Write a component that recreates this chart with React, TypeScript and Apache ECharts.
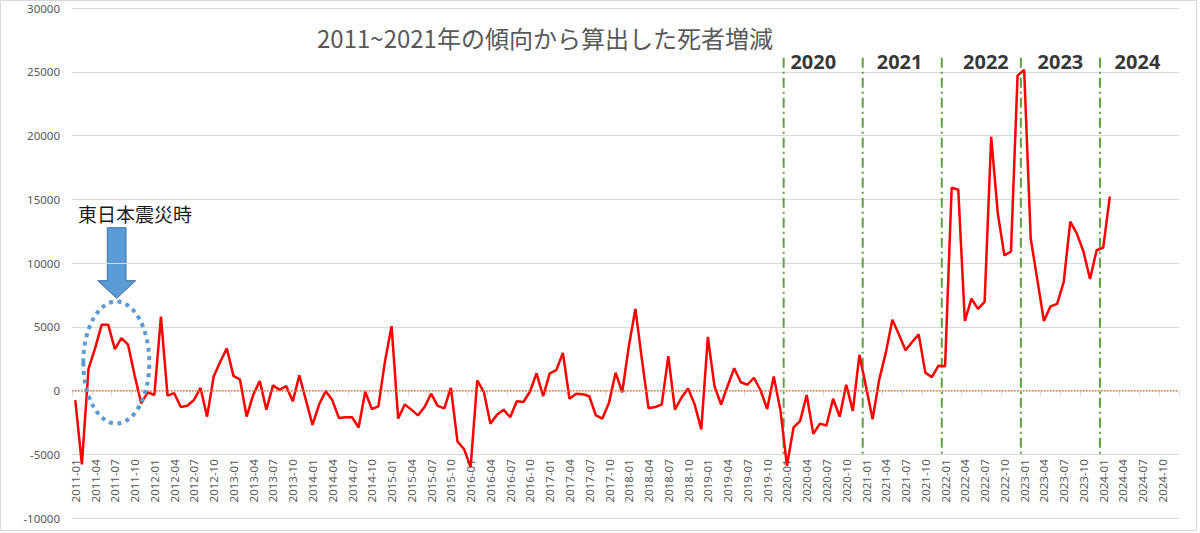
import React, { useEffect, useRef } from "react";
import * as echarts from "echarts";

// ---- data ----
const years = [2011, 2012, 2013, 2014, 2015, 2016, 2017, 2018, 2019, 2020, 2021, 2022, 2023, 2024];
const monthNames = ["01", "02", "03", "04", "05", "06", "07", "08", "09", "10", "11", "12"];
const categories: string[] = [];
years.forEach((y) => monthNames.forEach((m) => categories.push(`${y}-${m}`)));

const v2011 = [-750, -5800, 1700, 3300, 5150, 5150, 3250, 4100, 3600, 1200, -1000, -150];
const v2012 = [-350, 5800, -400, -200, -1300, -1200, -750, 200, -2050, 1100, 2250, 3300];
const v2013 = [1150, 850, -2050, -350, 750, -1500, 400, 50, 350, -850, 1200, -750];
const v2014 = [-2700, -1100, -50, -750, -2150, -2100, -2100, -2900, -100, -1450, -1250, 2300];
const v2015 = [5050, -2200, -1100, -1500, -1950, -1300, -250, -1200, -1400, 200, -4000, -4600];
const v2016 = [-6000, 800, -100, -2600, -1900, -1500, -2100, -850, -900, -100, 1350, -450];
const v2017 = [1350, 1600, 2950, -650, -250, -300, -450, -1950, -2200, -950, 1400, -150];
const v2018 = [3450, 6400, 2400, -1400, -1300, -1100, 2700, -1500, -550, 150, -1100, -3050];
const v2019 = [4200, 350, -1100, 350, 1750, 650, 450, 1000, 0, -1450, 1100, -1500];
const v2020 = [-5900, -2900, -2400, -350, -3400, -2600, -2750, -650, -2050, 450, -1600, 2800];
const v2021 = [300, -2250, 850, 2950, 5550, 4400, 3150, 3800, 4400, 1400, 1050, 1950];
const v2022 = [1900, 15900, 15750, 5450, 7200, 6400, 6950, 19900, 13900, 10600, 10900, 24700];
const v2023 = [25150, 11900, 8700, 5450, 6600, 6800, 8500, 13250, 12300, 10900, 8750, 11000];
const v2024 = [11200, 15200];

const deathDiff = [
  ...v2011, ...v2012, ...v2013, ...v2014, ...v2015, ...v2016, ...v2017,
  ...v2018, ...v2019, ...v2020, ...v2021, ...v2022, ...v2023, ...v2024,
];

const yearMarkers = ["2020", "2021", "2022", "2023", "2024"];
const yearLabelOffsets = [4.5, 5.6, 6.7, 6.0, 5.7]; // months right of the divider
const yTicks = { min: -10000, max: 30000, interval: 5000 };

const titleText = "2011~2021年の傾向から算出した死者増減";
const noteText = "東日本震災時";

export default function App() {
  const ref = useRef<HTMLDivElement>(null);

  useEffect(() => {
    if (!ref.current) return;
    const chart = echarts.init(ref.current, undefined, { renderer: "svg" });
    const font = '"Noto Sans", "Open Sans", sans-serif';
    const gray = "#595959";

    const gridTop = 8;
    const gridBottom = 15;
    const gridH = 533 - gridTop - gridBottom;
    const stepPx = gridH / ((yTicks.max - yTicks.min) / yTicks.interval);

    const lineTop = 26100;
    const lineBottom = -5100;

    const dividerSeries = yearMarkers.map((yr) => {
      const k = categories.indexOf(`${yr}-01`);
      return {
        type: "line",
        xAxisIndex: 1,
        yAxisIndex: 0,
        data: [
          [k, lineTop],
          [k, lineBottom],
        ],
        symbol: "none",
        silent: true,
        z: 1,
        lineStyle: { color: "#5FA043", width: 2, type: [10, 4, 2, 4] },
      };
    });

    const yearLabelSeries = {
      type: "scatter",
      xAxisIndex: 1,
      yAxisIndex: 0,
      symbolSize: 0,
      silent: true,
      data: yearMarkers.map((yr, i) => [categories.indexOf(`${yr}-01`) + yearLabelOffsets[i], 25800, yr]),
      label: {
        show: true,
        position: "inside",
        formatter: (p: any) => p.value[2],
        fontFamily: '"Open Sans", sans-serif',
        fontWeight: "bold",
        fontSize: 20,
        color: "#000",
      },
    };

    chart.setOption({
      animation: false,
      backgroundColor: "#fff",
      grid: { left: 72, right: 21, top: gridTop, bottom: gridBottom, containLabel: false },
      xAxis: [
        {
          type: "category",
          data: categories,
          boundaryGap: true,
          position: "bottom",
          offset: -stepPx,
          axisLine: { show: true, lineStyle: { color: "#D9D9D9", width: 1 } },
          axisTick: { show: true, interval: 2, length: 5, lineStyle: { color: "#D9D9D9" } },
          axisLabel: {
            interval: 2,
            rotate: 90,
            margin: 5,
            color: gray,
            fontSize: 11.5,
            fontFamily: font,
          },
          splitLine: { show: false },
        },
        {
          type: "value",
          min: 0,
          max: categories.length,
          show: false,
        },
      ],
      yAxis: {
        type: "value",
        min: yTicks.min,
        max: yTicks.max,
        interval: yTicks.interval,
        axisLine: { show: false },
        axisTick: { show: false },
        axisLabel: {
          color: gray,
          fontSize: 11.5,
          fontFamily: font,
          margin: 12,
          formatter: (v: number) => String(v),
        },
        splitLine: { lineStyle: { color: "#D9D9D9", width: 1 } },
      },
      series: [
        ...dividerSeries,
        {
          type: "line",
          xAxisIndex: 0,
          data: deathDiff,
          symbol: "none",
          z: 3,
          lineStyle: { color: "#FF0000", width: 2.5 },
          markLine: {
            silent: true,
            symbol: ["none", "none"],
            label: { show: false },
            lineStyle: { color: "#ED7D31", type: "dotted", width: 1.5 },
            data: [{ yAxis: 0 }],
          },
        },
        yearLabelSeries,
      ],
      graphic: [
        {
          type: "rect",
          silent: true,
          shape: { x: 0.5, y: 0.5, width: 1196, height: 530 },
          style: { fill: "none", stroke: "#D9D9D9", lineWidth: 1 },
          z: -10,
        },
        {
          type: "text",
          silent: true,
          style: {
            text: titleText,
            x: 545,
            y: 37,
            align: "center",
            verticalAlign: "middle",
            fontSize: 24,
            fontFamily: '"Noto Sans CJK JP", sans-serif',
            fill: gray,
          },
        },
        {
          type: "text",
          silent: true,
          style: {
            text: noteText,
            x: 78,
            y: 213,
            align: "left",
            verticalAlign: "middle",
            fontSize: 19,
            fontFamily: '"Noto Sans CJK JP", sans-serif',
            fill: "#1a1a1a",
          },
        },
        {
          type: "polygon",
          silent: true,
          shape: {
            points: [
              [107.3, 227.7],
              [126, 227.7],
              [126, 280.7],
              [135.7, 280.7],
              [116.7, 298.3],
              [97.7, 280.7],
              [107.3, 280.7],
            ],
          },
          style: { fill: "#5B9BD5", stroke: "#41719C", lineWidth: 1 },
        },
        {
          type: "ellipse",
          silent: true,
          shape: { cx: 116.3, cy: 362.5, rx: 33, ry: 61 },
          style: { fill: "none", stroke: "#5B9BD5", lineWidth: 4, lineDash: [4, 4.5] },
          z: 10,
        },
      ],
    });

    return () => chart.dispose();
  }, []);

  return (
    <div
      ref={ref}
      style={{ position: "fixed", left: 0, top: 0, width: 1200, height: 533, background: "#fff" }}
    />
  );
}
